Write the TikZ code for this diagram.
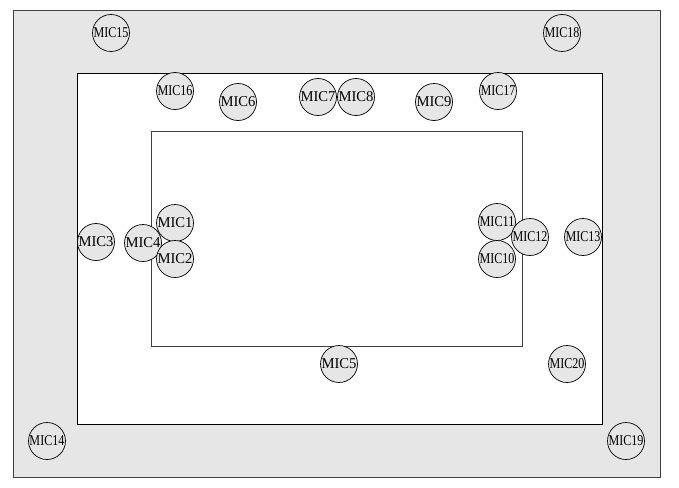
\documentclass[tikz,border=0pt]{standalone}
\usepackage{fontspec}
\setmainfont{Liberation Serif}
\usepackage{graphicx}
\usepackage{xcolor}
\definecolor{roomgray}{HTML}{E6E6E6}
\newcommand{\miclabel}[1]{\resizebox{35pt}{\height}{#1}}

\begin{document}
\begin{tikzpicture} [x=1pt, y=-1pt,
		mic/.style={circle, draw=black, fill=roomgray, line width=0.7pt,
			minimum size=37pt, inner sep=0pt, font=\fontsize{15}{15}\selectfont}]
				\useasboundingbox (0, 0) rectangle (679, 487);
				\fill [white] (0, 0) rectangle (679, 487);
				\filldraw [fill=roomgray, draw=black!75, line width=0.8pt] (13, 10) rectangle (660, 477);
				\filldraw [fill=white, draw=black, line width=0.8pt] (77, 73) rectangle (602, 424);
				\draw [black!75, line width=0.8pt] (151, 131) rectangle (522, 346);

				\node [mic] (mic15) at (111, 33) {\miclabel{MIC15}};
				\node [mic] (mic18) at (562, 33) {\miclabel{MIC18}};
				\node [mic] (mic16) at (175, 91) {\miclabel{MIC16}};
				\node [mic] (mic6) at (238, 102) {\miclabel{MIC6}};
				\node [mic] (mic7) at (318, 97) {\miclabel{MIC7}};
				\node [mic] (mic8) at (356, 97) {\miclabel{MIC8}};
				\node [mic] (mic9) at (434, 102) {\miclabel{MIC9}};
				\node [mic] (mic17) at (498, 91) {\miclabel{MIC17}};
				\node [mic] (mic3) at (96, 242) {\miclabel{MIC3}};
				\node [mic] (mic4) at (143, 243) {\miclabel{MIC4}};
				\node [mic] (mic1) at (175, 223) {\miclabel{MIC1}};
				\node [mic] (mic2) at (175, 259) {\miclabel{MIC2}};
				\node [mic] (mic11) at (497, 222) {\miclabel{MIC11}};
				\node [mic] (mic10) at (497, 259) {\miclabel{MIC10}};
				\node [mic] (mic12) at (530, 237) {\miclabel{MIC12}};
				\node [mic] (mic13) at (583, 237) {\miclabel{MIC13}};
				\node [mic] (mic5) at (339, 364) {\miclabel{MIC5}};
				\node [mic] (mic20) at (567, 364) {\miclabel{MIC20}};
				\node [mic] (mic14) at (47, 441) {\miclabel{MIC14}};
				\node [mic] (mic19) at (626, 441) {\miclabel{MIC19}};

			\end{tikzpicture}
\end{document}
